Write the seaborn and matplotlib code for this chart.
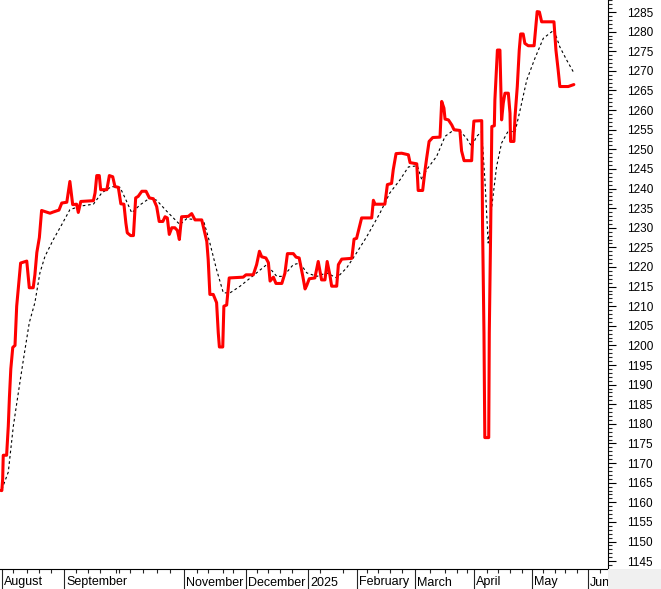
import numpy as np
import pandas as pd
import matplotlib
matplotlib.use("Agg")
import matplotlib.pyplot as plt
import matplotlib.patches as mpatches
import seaborn as sns

# ---- data (trading-session index, price) ----
price_session = [0.0, 0.3, 0.6, 0.8, 2.0, 2.6, 3.0, 3.5, 4.2, 5.0, 5.6, 6.2, 7.0, 9.2, 10.1, 11.5,
                 12.1, 12.8, 13.7, 14.5, 17.5, 18.6, 20.7, 21.7, 23.5, 24.0, 24.6, 25.6, 27.0, 27.6,
                 28.5, 33.0, 33.6, 34.2, 35.1, 35.6, 37.8, 38.7, 39.9, 40.7, 41.9, 42.8, 43.9, 44.6,
                 45.1, 46.3, 47.3, 48.1, 49.0, 50.3, 51.8, 53.0, 54.4, 55.6, 56.5, 57.8, 58.6, 59.4,
                 60.1, 61.0, 62.1, 63.0, 63.7, 64.5, 66.9, 68.1, 69.3, 71.7, 72.5, 73.5, 74.0, 74.6,
                 75.8, 77.0, 77.6, 78.0, 79.2, 79.6, 80.6, 81.5, 86.5, 87.5, 90.1, 91.3, 92.3, 93.1,
                 94.6, 95.5, 96.1, 97.3, 98.2, 100.3, 101.4, 102.3, 104.4, 105.4, 106.5, 107.8, 108.6,
                 109.2, 110.1, 112.1, 113.3, 113.9, 114.5, 115.7, 116.5, 117.5, 118.1, 119.9, 120.5,
                 121.7, 125.3, 126.1, 127.0, 128.8, 132.4, 133.0, 133.6, 137.1, 138.0, 139.5, 140.1,
                 141.1, 143.1, 145.5, 146.1, 148.5, 149.0, 150.6, 151.4, 152.0, 152.9, 154.2, 156.8,
                 157.4, 158.2, 158.6, 159.8, 161.0, 161.8, 163.9, 164.5, 165.4, 168.1, 168.5, 168.9,
                 171.7, 172.0, 172.5, 172.8, 174.2, 174.4, 174.9, 175.3, 176.2, 176.4, 176.8, 177.3,
                 178.2, 178.8, 179.4, 180.0, 181.2, 181.8, 182.0, 183.2, 183.6, 184.4, 185.1, 185.6,
                 186.5, 187.1, 188.3, 190.4, 191.1, 191.5, 192.3, 193.1, 197.5, 198.2, 199.0, 199.6,
                 202.6, 203.8, 204.6]
price_close = [1163.0, 1163.0, 1166.0, 1172.0, 1172.0, 1179.4, 1186.7, 1194.0, 1199.5, 1200.0, 1210.0,
               1214.7, 1221.0, 1221.5, 1214.7, 1214.7, 1218.0, 1223.7, 1227.5, 1234.4, 1233.7, 1234.0,
               1234.5, 1236.3, 1236.5, 1238.9, 1241.8, 1235.9, 1236.0, 1233.9, 1236.7, 1236.9, 1238.9,
               1243.3, 1243.3, 1239.7, 1239.7, 1243.3, 1243.0, 1240.5, 1240.3, 1236.1, 1236.0, 1231.2,
               1228.7, 1228.0, 1228.0, 1237.6, 1238.0, 1239.3, 1239.3, 1237.6, 1237.4, 1235.4, 1231.6,
               1231.6, 1232.8, 1232.5, 1228.3, 1230.0, 1230.0, 1229.3, 1227.0, 1232.8, 1232.9, 1233.6,
               1232.0, 1232.0, 1229.5, 1226.5, 1221.9, 1213.0, 1213.0, 1210.9, 1203.2, 1199.6, 1199.6,
               1210.0, 1210.3, 1217.2, 1217.4, 1218.0, 1218.0, 1220.6, 1224.0, 1222.6, 1222.3, 1221.1,
               1216.4, 1217.4, 1215.8, 1215.8, 1218.4, 1223.4, 1223.4, 1222.5, 1222.3, 1217.6, 1214.4,
               1215.3, 1217.0, 1217.2, 1221.4, 1219.0, 1216.7, 1216.7, 1221.4, 1217.8, 1215.1, 1215.1,
               1220.6, 1222.0, 1222.2, 1227.1, 1227.3, 1232.5, 1232.5, 1237.0, 1236.0, 1236.0, 1241.0,
               1241.3, 1244.8, 1248.9, 1249.0, 1248.6, 1246.6, 1246.3, 1239.5, 1239.5, 1244.4, 1247.6,
               1252.0, 1253.0, 1253.1, 1262.2, 1260.5, 1257.7, 1257.5, 1256.2, 1255.0, 1254.8, 1249.6,
               1247.1, 1247.1, 1253.3, 1257.2, 1257.3, 1230.3, 1203.2, 1176.5, 1176.5, 1203.2, 1230.0,
               1255.8, 1256.0, 1262.6, 1268.5, 1275.3, 1275.3, 1257.5, 1261.8, 1264.3, 1264.3, 1259.2,
               1252.0, 1252.0, 1258.4, 1266.0, 1275.3, 1279.4, 1279.4, 1277.0, 1276.4, 1276.4, 1282.1,
               1285.1, 1285.0, 1282.5, 1282.5, 1275.3, 1270.2, 1266.0, 1266.0, 1266.3, 1266.5]

ma_session = [0.3, 2.6, 4.4, 6.2, 8.0, 10.1, 12.1, 13.9, 15.7, 18.7, 21.7, 24.6, 28.2, 33.0, 36.0, 39.5,
              42.5, 44.3, 46.7, 49.6, 53.2, 55.6, 59.2, 63.9, 66.3, 72.3, 74.6, 77.0, 79.4, 81.8, 85.4,
              91.3, 94.9, 98.5, 100.8, 104.4, 106.8, 109.2, 112.8, 116.3, 119.9, 123.5, 127.0, 130.6,
              135.4, 138.9, 142.5, 145.5, 148.7, 150.3, 152.0, 155.6, 158.6, 161.5, 163.9, 166.3, 168.1,
              169.9, 171.7, 172.9, 174.0, 175.3, 177.0, 178.8, 181.2, 183.6, 185.4, 187.8, 190.7, 193.7,
              197.5, 199.6, 202.0, 204.6]
ma_value = [1163.3, 1167.7, 1179.4, 1188.0, 1196.4, 1205.8, 1210.9, 1218.5, 1222.7, 1227.0, 1230.8,
            1234.6, 1235.5, 1236.0, 1238.9, 1240.5, 1240.3, 1237.6, 1233.8, 1235.8, 1237.6, 1237.0,
            1234.2, 1230.8, 1232.3, 1231.9, 1226.1, 1219.3, 1213.4, 1213.4, 1215.1, 1218.5, 1220.6,
            1217.6, 1217.6, 1220.6, 1221.0, 1218.5, 1217.6, 1218.5, 1217.2, 1219.8, 1223.6, 1227.7,
            1233.8, 1238.9, 1242.2, 1245.5, 1245.8, 1242.2, 1244.8, 1248.2, 1253.3, 1254.8, 1254.7,
            1252.8, 1250.7, 1253.3, 1254.5, 1241.4, 1226.1, 1235.4, 1245.6, 1251.6, 1254.7, 1254.4,
            1260.0, 1267.7, 1273.2, 1278.3, 1280.4, 1276.1, 1272.8, 1269.5]

month_labels = ["August", "September", "November", "December", "2025", "February", "March",
                "April", "May", "Jun"]
month_starts = [0.25, 22.6, 65.5, 87.5, 109.75, 127.0, 147.9, 169.0, 189.5, 209.75]
week_ticks = [4.4, 9.2, 13.7, 17.75, 26.8, 31.0, 35.4, 40.9, 42.1, 46.1, 50.8, 55.6, 60.4, 69.9,
              73.9, 79.2, 82.9, 91.3, 95.5, 99.6, 103.8, 113.9, 122.25, 130.6, 134.6, 138.9, 143.1,
              153.2, 158.6, 162.75, 166.3, 173.5, 177.6, 181.8, 186.0, 193.7, 197.9, 201.4,
              205.6, 213.9]

price_df = pd.DataFrame({"session": price_session, "close": price_close})
ma_df = pd.DataFrame({"session": ma_session, "ma": ma_value})

# ---- figure ----
sns.set_style("white")
plt.rcParams["font.family"] = ["Liberation Sans", "DejaVu Sans"]

W, H = 661, 589
fig = plt.figure(figsize=(W / 100, H / 100), dpi=100)
fig.patch.set_facecolor("white")
ax = fig.add_axes([0, 20 / H, 608 / W, 569 / H])
ax.set_facecolor("white")

sns.lineplot(data=ma_df, x="session", y="ma", ax=ax, color="black", linewidth=0.8,
             estimator=None, sort=False)
ax.lines[-1].set_linestyle((0, (2.4, 2.4)))
sns.lineplot(data=price_df, x="session", y="close", ax=ax, color="#ff0000", linewidth=2.2,
             estimator=None, sort=False)

ax.set_xlim(-0.36, 216.8)
ax.set_ylim(1143.0, 1288.06)

# spines
for s in ["left", "top"]:
    ax.spines[s].set_visible(False)
for s in ["right", "bottom"]:
    ax.spines[s].set_visible(True)
    ax.spines[s].set_color("black")
    ax.spines[s].set_linewidth(0.8)

# y axis on right
ax.yaxis.tick_right()
ax.set_yticks(np.arange(1145, 1286, 5))
ax.set_yticks(np.arange(1144, 1289, 1), minor=True)
ax.tick_params(axis="y", which="major", direction="out", length=6, width=0.8, pad=7.5,
               labelsize=8.5, colors="black", right=True, left=False)
ax.tick_params(axis="y", which="minor", direction="out", length=3, width=0.8, right=True,
               left=False)

# x axis: month separators as long ticks, weekly as short ticks
ax.set_xticks(month_starts)
ax.set_xticklabels([""] * len(month_starts))
ax.set_xticks(week_ticks, minor=True)
ax.tick_params(axis="x", which="major", direction="out", length=15, width=0.8, bottom=True)
ax.tick_params(axis="x", which="minor", direction="out", length=3, width=0.8, bottom=True)
ax.set_xlabel("")
ax.set_ylabel("")

for pos, lab in zip(month_starts, month_labels):
    ax.annotate(lab, xy=(pos, 0), xycoords=("data", "axes fraction"),
                xytext=(2, -16.5), textcoords="offset pixels", ha="left", va="baseline",
                fontsize=9, color="black", annotation_clip=False)

# grey corner below the price scale (drawn on top so it clips the last month label)
corner = mpatches.Rectangle((608 / W, 0), 1 - 608 / W, 20 / H,
                            transform=fig.transFigure, facecolor="#f0f0f0",
                            edgecolor="none", zorder=10)
fig.add_artist(corner)

fig.savefig("out.png", dpi=100)
